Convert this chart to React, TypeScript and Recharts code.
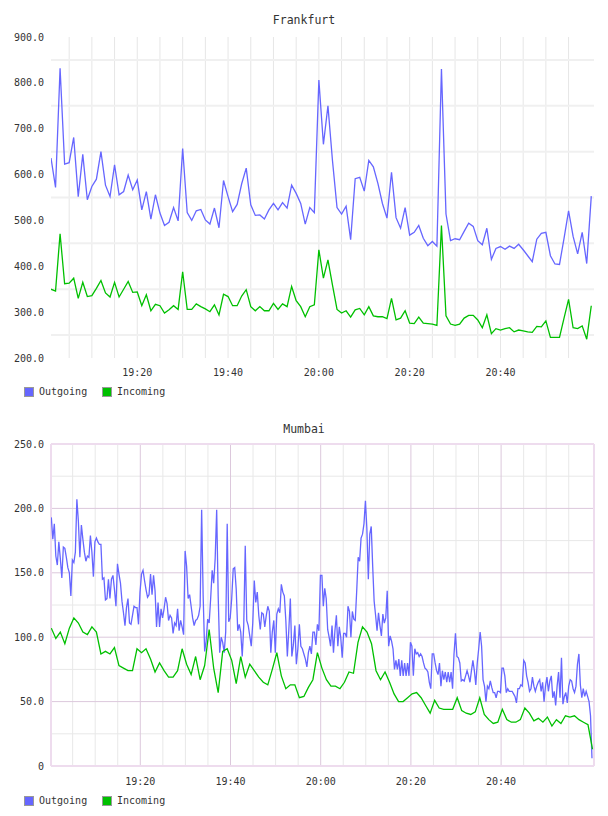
import { LineChart, Line, XAxis, YAxis, CartesianGrid } from 'recharts';

const FONT = '"DejaVu Sans Mono", monospace';
const OUT_COLOR = '#6666ff';
const IN_COLOR = '#00c000';
const TEXT = '#333';

// Frankfurt: one sample per minute, minute 1 = 19:01
const frankfurtMinutes = Array.from({ length: 120 }, (_, i) => i + 1);
const frankfurtOutgoing = [
  636, 572, 832, 623, 626, 681, 552, 644, 545, 574,
  590, 650, 577, 552, 621, 556, 563, 599, 567, 588,
  523, 563, 503, 556, 516, 489, 496, 528, 499, 657,
  517, 500, 521, 524, 501, 492, 527, 484, 587, 552,
  519, 535, 580, 614, 534, 511, 512, 503, 523, 537,
  523, 539, 527, 577, 559, 537, 492, 528, 517, 806,
  666, 750, 630, 528, 514, 531, 458, 591, 594, 564,
  631, 617, 581, 537, 505, 605, 506, 483, 528, 468,
  474, 489, 461, 445, 454, 444, 830, 514, 456, 460,
  458, 476, 494, 487, 456, 447, 483, 415, 439, 443,
  437, 444, 439, 448, 436, 423, 410, 459, 472, 474,
  423, 405, 404, 461, 521, 465, 427, 474, 406, 553,
];
const frankfurtIncoming = [
  350, 346, 471, 362, 363, 374, 330, 365, 334, 336,
  352, 369, 342, 333, 365, 333, 350, 367, 343, 344,
  314, 338, 303, 317, 314, 298, 305, 314, 306, 388,
  306, 306, 318, 312, 307, 301, 316, 294, 339, 334,
  314, 314, 335, 349, 312, 303, 312, 303, 303, 319,
  306, 318, 312, 356, 325, 312, 290, 312, 316, 436,
  374, 414, 359, 306, 298, 303, 289, 305, 308, 294,
  312, 292, 290, 290, 286, 330, 283, 287, 303, 276,
  275, 289, 276, 275, 274, 271, 489, 292, 274, 271,
  274, 287, 293, 293, 283, 266, 294, 253, 264, 261,
  264, 266, 257, 261, 259, 257, 256, 269, 268, 281,
  245, 245, 245, 287, 328, 266, 264, 270, 241, 314,
];
const frankfurtTicks = [200, 300, 400, 500, 600, 700, 800, 900];
const frankfurtGridY = [250, 350, 450, 550, 650, 750, 850];

// Mumbai outgoing: every 20 s in the first hour, then the second hour
const mumbaiOutFirstHour = [
  193, 176, 188, 163, 156, 174, 161, 146, 170, 169,
  162, 154, 150, 132, 160, 158, 166, 207, 190, 162,
  187, 176, 166, 159, 163, 162, 179, 166, 147, 174,
  177, 174, 172, 172, 145, 146, 129, 130, 145, 130,
  145, 148, 137, 124, 157, 149, 142, 128, 119, 109,
  123, 130, 111, 110, 117, 124, 123, 123, 110, 135,
  149, 152, 144, 137, 131, 133, 149, 133, 148, 136,
  108, 127, 108, 122, 115, 122, 131, 126, 113, 117,
  115, 103, 111, 109, 122, 105, 113, 108, 102, 167,
  155, 130, 133, 124, 115, 109, 113, 114, 117, 124,
  199, 132, 89, 97, 114, 111, 130, 152, 142, 161,
  199, 132, 88, 100, 96, 88, 104, 188, 112, 115,
  130, 153, 154, 137, 105, 110, 104, 85, 109, 171,
  113, 109, 101, 93, 111, 144, 127, 135, 117, 106,
  119, 118, 108, 117, 124, 120, 88, 104, 113, 88,
  118, 122, 119, 141, 135, 132, 113, 85, 106, 130,
  85, 94, 109, 79, 91, 110, 93, 91, 87, 83,
  77, 88, 93, 87, 104, 104, 94, 110, 105, 148,
  148,
];
const mumbaiOutSecondHour = [
  124, 138, 130, 106, 100, 93, 109, 88, 105, 117,
  93, 108, 100, 84, 103, 103, 100, 124, 120, 100,
  120, 114, 113, 136, 162, 159, 177, 180, 188, 206,
  184, 145, 180, 186, 155, 128, 117, 105, 119, 109,
  101, 118, 111, 115, 136, 93, 101, 97, 91, 75,
  82, 75, 83, 70, 82, 70, 80, 70, 80, 70,
  96, 93, 70, 91, 87, 88, 85, 87, 85, 80,
  76, 75, 73, 65, 60, 87, 87, 80, 74, 71,
  80, 62, 74, 67, 73, 65, 73, 65, 73, 60,
  87, 103, 85, 84, 80, 66, 67, 66, 70, 74,
  70, 65, 74, 82, 74, 63, 80, 91, 104, 93,
  67, 62, 50, 62, 60, 66, 61, 57, 57, 53,
  58, 58, 57, 76, 76, 70, 57, 60, 58, 58,
  58, 56, 54, 49, 60, 60, 63, 62, 82, 80,
  70, 65, 58, 60, 69, 62, 58, 62, 65, 67,
  58, 65, 50, 62, 69, 58, 66, 70, 53, 58,
  47, 62, 73, 53, 84, 48, 54, 57, 49, 62,
  67, 66, 60, 57, 62, 79, 87, 63, 53, 60,
  54, 58, 54, 50, 39, 6,
];
// Mumbai incoming: one sample per minute
const mumbaiIncoming = [
  107, 99, 104, 95, 107, 115, 111, 104, 102, 108,
  104, 87, 89, 87, 92, 78, 76, 74, 74, 91,
  88, 91, 83, 73, 80, 74, 69, 69, 74, 91,
  79, 71, 85, 67, 78, 106, 76, 57, 89, 91,
  82, 64, 85, 69, 79, 74, 69, 65, 63, 75,
  88, 70, 60, 63, 63, 53, 54, 61, 67, 88,
  76, 67, 62, 62, 60, 65, 73, 72, 96, 108,
  104, 95, 74, 67, 73, 65, 56, 50, 50, 53,
  56, 57, 53, 47, 41, 51, 45, 44, 44, 44,
  53, 43, 41, 40, 42, 53, 40, 36, 33, 34,
  44, 36, 34, 34, 36, 45, 41, 35, 37, 34,
  38, 31, 36, 33, 39, 38, 39, 36, 34, 32,
  13,
];
const mumbaiTicks = [0, 50, 100, 150, 200, 250];
const mumbaiMajorY = [50, 100, 150, 200];
const mumbaiMinorY = [25, 75, 125, 175, 225];

// minutes after 19:00
const timeTicks = [20, 40, 60, 80, 100];
const fiveMinutes = Array.from({ length: 23 }, (_, i) => (i + 1) * 5);
const minorMinutes = fiveMinutes.filter((m) => m % 20 !== 0);

const clock = (t: number) =>
  `${19 + Math.floor(t / 60)}:${String(Math.round(t % 60)).padStart(2, '0')}`;

const frankfurtData = frankfurtMinutes.map((t, i) => ({
  t,
  out: frankfurtOutgoing[i],
  inc: frankfurtIncoming[i],
}));

const secondStart = 60.58;
const secondEnd = 120.15;
const mumbaiOutData = [
  ...mumbaiOutFirstHour.map((v, i) => ({ t: 0.27 + i / 3, v })),
  ...mumbaiOutSecondHour.map((v, i) => ({
    t: secondStart + (i * (secondEnd - secondStart)) / (mumbaiOutSecondHour.length - 1),
    v,
  })),
];
const mumbaiInData = mumbaiIncoming.map((v, i) => ({ t: 0.27 + i, v }));

const tickStyle = { fontSize: 10, fill: TEXT, fontFamily: FONT };

function Title({ text, top }: { text: string; top: number }) {
  return (
    <div
      style={{
        position: 'absolute',
        left: 0,
        width: 608,
        top,
        textAlign: 'center',
        fontFamily: FONT,
        fontSize: 11.5,
        lineHeight: '14px',
        color: TEXT,
      }}
    >
      {text}
    </div>
  );
}

function SeriesLegend({ top }: { top: number }) {
  const items = [
    { name: 'Outgoing', color: OUT_COLOR, left: 24 },
    { name: 'Incoming', color: IN_COLOR, left: 102 },
  ];
  return (
    <>
      {items.map((it) => (
        <div
          key={it.name}
          style={{
            position: 'absolute',
            left: it.left,
            top,
            display: 'flex',
            alignItems: 'center',
            fontFamily: FONT,
            fontSize: 10,
            color: TEXT,
            lineHeight: '12px',
          }}
        >
          <span
            style={{
              display: 'inline-block',
              width: 8,
              height: 8,
              background: it.color,
              border: '1px solid #999',
              marginRight: 5,
            }}
          />
          {it.name}
        </div>
      ))}
    </>
  );
}

export default function App() {
  return (
    <div style={{ position: 'absolute', left: 0, top: 0, width: 608, height: 816, background: '#fff' }}>
      <Title text="Frankfurt" top={13} />
      <div style={{ position: 'absolute', left: 0, top: 0 }}>
        <LineChart
          width={608}
          height={410}
          data={frankfurtData}
          margin={{ top: 37, right: 14, bottom: 22, left: 6 }}
          style={{ fontFamily: FONT }}
        >
          <CartesianGrid
            stroke="#e6e6e6"
            horizontal={false}
            verticalValues={fiveMinutes}
          />
          <CartesianGrid
            stroke="#f0f0f0"
            strokeWidth={2}
            vertical={false}
            horizontalValues={frankfurtGridY}
          />
          <XAxis
            dataKey="t"
            type="number"
            domain={[1, 120.6]}
            allowDataOverflow
            ticks={timeTicks}
            interval={0}
            tickFormatter={clock}
            axisLine={false}
            tickLine={false}
            tickSize={0}
            tickMargin={11}
            height={30}
            tick={tickStyle}
          />
          <YAxis
            type="number"
            domain={[200, 900]}
            allowDataOverflow
            ticks={frankfurtTicks}
            interval={0}
            tickFormatter={(v: number) => v.toFixed(1)}
            axisLine={false}
            tickLine={false}
            tickSize={0}
            tickMargin={7}
            width={45}
            tick={tickStyle}
          />
          <Line
            dataKey="out"
            type="linear"
            stroke={OUT_COLOR}
            strokeWidth={1.3}
            dot={false}
            isAnimationActive={false}
          />
          <Line
            dataKey="inc"
            type="linear"
            stroke={IN_COLOR}
            strokeWidth={1.3}
            dot={false}
            isAnimationActive={false}
          />
        </LineChart>
      </div>
      <SeriesLegend top={386} />

      <Title text="Mumbai" top={422} />
      <div style={{ position: 'absolute', left: 0, top: 410 }}>
        <LineChart
          width={608}
          height={406}
          margin={{ top: 34, right: 14, bottom: 20, left: 6 }}
          style={{ fontFamily: FONT }}
        >
          <CartesianGrid
            stroke="#e8e8e8"
            verticalValues={minorMinutes}
            horizontalValues={mumbaiMinorY}
          />
          <CartesianGrid
            stroke="#dcc8dc"
            verticalValues={timeTicks}
            horizontalValues={mumbaiMajorY}
          />
          <CartesianGrid
            stroke="#eedcee"
            strokeWidth={2}
            verticalValues={[0.2, 120.6]}
            horizontalValues={[0, 250]}
          />
          <XAxis
            dataKey="t"
            type="number"
            domain={[0.2, 120.6]}
            allowDataOverflow
            ticks={timeTicks}
            interval={0}
            tickFormatter={clock}
            axisLine={false}
            tickLine={false}
            tickSize={0}
            tickMargin={12}
            height={30}
            tick={tickStyle}
          />
          <YAxis
            type="number"
            domain={[0, 250]}
            allowDataOverflow
            ticks={mumbaiTicks}
            interval={0}
            tickFormatter={(v: number) => (v === 0 ? '0' : v.toFixed(1))}
            axisLine={false}
            tickLine={false}
            tickSize={0}
            tickMargin={7}
            width={45}
            tick={tickStyle}
          />
          <Line
            data={mumbaiOutData}
            dataKey="v"
            type="linear"
            stroke={OUT_COLOR}
            strokeWidth={1.3}
            dot={false}
            isAnimationActive={false}
          />
          <Line
            data={mumbaiInData}
            dataKey="v"
            type="linear"
            stroke={IN_COLOR}
            strokeWidth={1.3}
            dot={false}
            isAnimationActive={false}
          />
        </LineChart>
      </div>
      <SeriesLegend top={795} />
    </div>
  );
}
